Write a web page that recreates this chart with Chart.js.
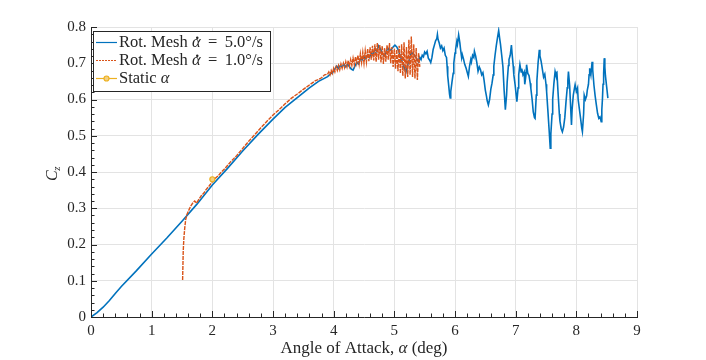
<!DOCTYPE html>
<html>
<head>
<meta charset="utf-8">
<script src="https://cdn.jsdelivr.net/npm/chart.js@4.4.0/dist/chart.umd.min.js"></script>
<style>
html, body { margin: 0; padding: 0; background: #fff; }
</style>
</head>
<body>
<canvas id="mainChart" width="706" height="360"></canvas>
<script>
// rotating mesh, 5.0 deg/s
const fastAlpha = [0, 0.1, 0.2, 0.3, 0.4, 0.5, 0.75, 1.0, 1.25, 1.5, 1.75, 2.0, 2.25, 2.5, 2.75, 3.0, 3.2, 3.4, 3.6, 3.75,
	3.9, 3.93, 3.96, 3.99, 4.02, 4.05, 4.08, 4.11, 4.14, 4.17, 4.2, 4.23, 4.26, 4.29, 4.32, 4.35, 4.38, 4.41, 4.44, 4.47,
	4.5, 4.53, 4.56, 4.59, 4.62, 4.65, 4.68, 4.71, 4.74, 4.77, 4.8, 4.83, 4.86, 4.89, 4.92, 4.95, 4.98, 5.01, 5.04, 5.07,
	5.1, 5.13, 5.16, 5.19, 5.22, 5.25, 5.28, 5.31, 5.34, 5.37,
	5.4, 5.42, 5.44, 5.46, 5.48, 5.5, 5.52, 5.54, 5.56, 5.58, 5.6, 5.62, 5.64, 5.66, 5.68, 5.7, 5.71, 5.72, 5.74, 5.76,
	5.78, 5.8, 5.82, 5.84, 5.86, 5.87, 5.88, 5.9, 5.91, 5.92, 5.93, 5.95, 5.97, 5.98, 6.0, 6.01, 6.03, 6.04, 6.06, 6.08,
	6.09, 6.11, 6.12, 6.14, 6.16, 6.18, 6.2, 6.22, 6.24, 6.26, 6.27, 6.29, 6.31, 6.32, 6.34, 6.36, 6.38, 6.4, 6.42, 6.44,
	6.46, 6.48, 6.5, 6.52, 6.53, 6.55, 6.57, 6.59, 6.61, 6.63, 6.64, 6.66, 6.68, 6.7, 6.72, 6.74, 6.75, 6.77, 6.79, 6.81,
	6.83, 6.85, 6.86, 6.88, 6.89, 6.91, 6.93, 6.94, 6.96, 6.97, 6.99, 7.01, 7.02, 7.04, 7.05, 7.07, 7.09, 7.1, 7.12, 7.14,
	7.15, 7.17, 7.18, 7.2, 7.22, 7.24, 7.25, 7.27, 7.29, 7.31, 7.32, 7.34, 7.35, 7.37, 7.39, 7.4, 7.42, 7.44, 7.46, 7.48,
	7.5, 7.51, 7.53, 7.55, 7.57, 7.58, 7.6, 7.61, 7.63, 7.65, 7.66, 7.68, 7.7, 7.72, 7.73, 7.75, 7.77, 7.79, 7.81, 7.83,
	7.85, 7.86, 7.87, 7.89, 7.9, 7.92, 7.93, 7.95, 7.97, 7.98, 8.0, 8.02, 8.03, 8.05, 8.07, 8.09, 8.1, 8.12, 8.13, 8.15,
	8.17, 8.18, 8.2, 8.21, 8.22, 8.24, 8.26, 8.27, 8.29, 8.31, 8.33, 8.35, 8.37, 8.39, 8.41, 8.42, 8.43, 8.44, 8.45, 8.46,
	8.47, 8.48, 8.5, 8.52];
const fastCz = [0, 0.012, 0.027, 0.045, 0.065, 0.084, 0.128, 0.174, 0.218, 0.264, 0.312, 0.364, 0.41, 0.458, 0.503, 0.546, 0.578, 0.605, 0.632, 0.65,
	0.663, 0.668, 0.672, 0.676, 0.684, 0.692, 0.686, 0.694, 0.69, 0.697, 0.69, 0.698, 0.69, 0.684, 0.681, 0.692, 0.702, 0.698, 0.712, 0.709,
	0.718, 0.712, 0.722, 0.716, 0.728, 0.722, 0.74, 0.732, 0.748, 0.74, 0.728, 0.72, 0.728, 0.742, 0.735, 0.738, 0.745, 0.75, 0.745, 0.735,
	0.718, 0.705, 0.69, 0.675, 0.695, 0.712, 0.73, 0.726, 0.72, 0.712,
	0.704, 0.716, 0.71, 0.722, 0.718, 0.731, 0.726, 0.733, 0.714, 0.709, 0.702, 0.716, 0.738, 0.75, 0.762, 0.768, 0.779, 0.766, 0.756, 0.742,
	0.748, 0.735, 0.742, 0.722, 0.716, 0.692, 0.665, 0.632, 0.615, 0.604, 0.622, 0.648, 0.672, 0.7, 0.728, 0.738, 0.76, 0.752, 0.778, 0.756,
	0.741, 0.715, 0.724, 0.712, 0.697, 0.688, 0.676, 0.664, 0.692, 0.71, 0.703, 0.722, 0.716, 0.733, 0.72, 0.702, 0.678, 0.69, 0.682, 0.668,
	0.674, 0.652, 0.626, 0.608, 0.597, 0.585, 0.6, 0.628, 0.645, 0.668, 0.692, 0.722, 0.748, 0.77, 0.79, 0.764, 0.752, 0.722, 0.69, 0.625,
	0.572, 0.612, 0.648, 0.694, 0.71, 0.722, 0.75, 0.728, 0.692, 0.668, 0.642, 0.61, 0.594, 0.632, 0.668, 0.696, 0.676, 0.685, 0.668, 0.676,
	0.642, 0.668, 0.696, 0.672, 0.666, 0.645, 0.631, 0.602, 0.566, 0.55, 0.548, 0.612, 0.652, 0.702, 0.737, 0.72, 0.705, 0.684, 0.662, 0.67,
	0.642, 0.622, 0.572, 0.52, 0.466, 0.505, 0.56, 0.6, 0.644, 0.677, 0.67, 0.674, 0.615, 0.56, 0.54, 0.52, 0.511, 0.524, 0.55, 0.594,
	0.632, 0.652, 0.677, 0.638, 0.602, 0.53, 0.572, 0.612, 0.632, 0.641, 0.622, 0.632, 0.6, 0.574, 0.548, 0.52, 0.511, 0.56, 0.612, 0.6,
	0.61, 0.625, 0.642, 0.668, 0.686, 0.668, 0.704, 0.682, 0.64, 0.61, 0.585, 0.562, 0.548, 0.552, 0.539, 0.572, 0.6, 0.642, 0.672, 0.714,
	0.69, 0.665, 0.635, 0.604];

// rotating mesh, 1.0 deg/s
const slowAlpha = [1.51, 1.515, 1.52, 1.53, 1.545, 1.56, 1.58, 1.6, 1.64, 1.68, 1.71, 1.74, 1.78, 1.82, 1.86, 1.9, 1.95, 2.0, 2.05,
	2.1, 2.15, 2.2, 2.25, 2.3, 2.4, 2.5, 2.6, 2.7, 2.8, 2.9, 3.0, 3.1, 3.2, 3.3, 3.4, 3.5, 3.6, 3.7, 3.75, 3.8, 3.85,
	3.9, 3.92, 3.94, 3.96, 3.98, 4.0, 4.02, 4.04, 4.06, 4.08, 4.1, 4.12, 4.14, 4.16, 4.18, 4.2, 4.22, 4.24, 4.26, 4.28,
	4.3, 4.32, 4.34, 4.36, 4.38, 4.4, 4.42, 4.44, 4.46, 4.48, 4.5, 4.52, 4.54, 4.56, 4.58, 4.6, 4.62, 4.64, 4.66, 4.68,
	4.7, 4.72, 4.74, 4.76, 4.78, 4.8, 4.82, 4.84, 4.86, 4.88, 4.9, 4.92, 4.94, 4.96, 4.98, 5.0, 5.02, 5.04, 5.06, 5.08,
	5.1, 5.12, 5.14, 5.16, 5.18, 5.2, 5.22, 5.24, 5.26, 5.28, 5.3, 5.32, 5.34, 5.36, 5.38, 5.4, 5.42];
const slowCz = [0.102, 0.14, 0.18, 0.215, 0.245, 0.268, 0.282, 0.29, 0.305, 0.315, 0.32, 0.314, 0.325, 0.335, 0.342, 0.352, 0.362, 0.373, 0.383,
	0.39, 0.4, 0.408, 0.418, 0.428, 0.445, 0.465, 0.485, 0.503, 0.522, 0.54, 0.557, 0.572, 0.588, 0.603, 0.615, 0.628, 0.64, 0.652, 0.655, 0.66, 0.668,
	0.67, 0.676, 0.668, 0.68, 0.672, 0.686, 0.676, 0.69, 0.68, 0.694, 0.682, 0.698, 0.686, 0.7, 0.688, 0.704, 0.69, 0.708, 0.692, 0.71,
	0.694, 0.714, 0.696, 0.718, 0.7, 0.722, 0.698, 0.726, 0.702, 0.73, 0.7, 0.734, 0.704, 0.74, 0.706, 0.744, 0.71, 0.748, 0.708, 0.752,
	0.704, 0.756, 0.71, 0.75, 0.702, 0.748, 0.698, 0.742, 0.704, 0.75, 0.71, 0.756, 0.7, 0.745, 0.69, 0.74, 0.685, 0.738, 0.678, 0.748,
	0.672, 0.752, 0.665, 0.758, 0.658, 0.745, 0.662, 0.765, 0.668, 0.774, 0.662, 0.752, 0.658, 0.742, 0.654, 0.728, 0.69];

// static runs
const staticAlpha = [2.0];
const staticCz = [0.38];

const seriesLabels = ["Rot. Mesh \u03B1\u0307 = 5.0\u00B0/s", "Rot. Mesh \u03B1\u0307 = 1.0\u00B0/s", "Static \u03B1"];
const seriesColors = ["#0072BD", "#D95319", "#EDB120"];
const xTicks = [0, 1, 2, 3, 4, 5, 6, 7, 8, 9];
const yTicks = [0, 0.1, 0.2, 0.3, 0.4, 0.5, 0.6, 0.7, 0.8];

const toPts = (xs, ys) => xs.map((x, i) => ({ x: x, y: ys[i] }));
const ink = "#262626";
const serif = "'Liberation Serif', 'DejaVu Serif', serif";

// draw text runs, some in italic; alpha-dot gets its accent placed by hand
function runs(ctx, parts, x, y, size) {
	let cx = x;
	parts.forEach(p => {
		ctx.font = (p[1] ? "italic " : "") + size + "px " + serif;
		if (p[0] === "\u03B1\u0307") {
			ctx.fillText("\u03B1", cx, y);
			const w = ctx.measureText("\u03B1").width;
			ctx.font = "bold " + size + "px " + serif;
			ctx.textAlign = "center";
			ctx.fillText("\u02D9", cx + w / 2 + 1, y + size * 0.05);
			ctx.textAlign = "left";
			cx += w;
		} else {
			ctx.fillText(p[0], cx, y);
			cx += ctx.measureText(p[0]).width;
		}
	});
}
function runsWidth(ctx, parts, size) {
	let w = 0;
	parts.forEach(p => {
		ctx.font = (p[1] ? "italic " : "") + size + "px " + serif;
		w += ctx.measureText(p[0]).width;
	});
	return w;
}
function labelParts(lbl) {
	const parts = [];
	lbl.split(/(\u03B1\u0307?|=)/).forEach(s => {
		if (!s) return;
		if (s === "=") parts.push(["\u2009=\u2009", false]);
		else parts.push([s, s.charAt(0) === "\u03B1"]);
	});
	return parts;
}

const decor = {
	id: "decor",
	afterDraw(chart) {
		const ctx = chart.ctx, xs = chart.scales.x, ys = chart.scales.y, a = chart.chartArea;
		ctx.save();
		ctx.strokeStyle = ink;
		ctx.lineWidth = 1;
		// inward ticks, major + minor
		ctx.beginPath();
		for (let i = 0; i <= 45; i++) {
			const px = Math.round(xs.getPixelForValue(i * 0.2)) + 0.5;
			const len = i % 5 === 0 ? 6 : 3.5;
			ctx.moveTo(px, a.bottom);
			ctx.lineTo(px, a.bottom - len);
		}
		for (let i = 0; i <= 40; i++) {
			const py = Math.round(ys.getPixelForValue(i * 0.02)) + 0.5;
			const len = i % 5 === 0 ? 6 : 3.5;
			ctx.moveTo(a.left, py);
			ctx.lineTo(a.left + len, py);
		}
		ctx.stroke();

		ctx.fillStyle = ink;
		ctx.textBaseline = "alphabetic";
		// x title
		const xt = [["Angle of Attack, ", false], ["\u03B1", true], [" (deg)", false]];
		const w = runsWidth(ctx, xt, 17);
		runs(ctx, xt, (a.left + a.right) / 2 - w / 2, 353, 17);
		// y title C_z
		ctx.save();
		ctx.translate(57, 181);
		ctx.rotate(-Math.PI / 2);
		ctx.font = "italic 16px " + serif;
		ctx.fillText("C", 0, 0);
		const cw = ctx.measureText("C").width;
		ctx.font = "italic 11px " + serif;
		ctx.fillText("z", cw - 0.5, 3);
		ctx.restore();

		// legend
		const bx = 93, by = 31, bw = 177, bh = 60;
		ctx.fillStyle = "#fff";
		ctx.fillRect(bx, by, bw, bh);
		ctx.strokeStyle = ink;
		ctx.strokeRect(bx + 0.5, by + 0.5, bw, bh);
		const rows = [42, 60, 78];
		rows.forEach((ry, i) => {
			ctx.strokeStyle = seriesColors[i];
			ctx.lineWidth = i === 1 ? 1 : 1.2;
			ctx.setLineDash(i === 1 ? [2, 1] : []);
			ctx.beginPath();
			ctx.moveTo(96, ry + 0.5);
			ctx.lineTo(117, ry + 0.5);
			ctx.stroke();
			ctx.setLineDash([]);
			if (i === 2) {
				ctx.fillStyle = "#f3cf80";
				ctx.beginPath();
				ctx.arc(106.5, ry + 0.5, 2.5, 0, Math.PI * 2);
				ctx.fill();
				ctx.stroke();
			}
			ctx.fillStyle = ink;
			runs(ctx, labelParts(seriesLabels[i]), 119, ry + 5, 16.5);
		});
		ctx.restore();
	}
};

new Chart("mainChart", {
	type: "line",
	data: {
		datasets: [
			{
				label: seriesLabels[0],
				data: toPts(fastAlpha, fastCz),
				borderColor: seriesColors[0],
				borderWidth: 1.6,
				pointRadius: 0,
				fill: false,
				order: 2
			},
			{
				label: seriesLabels[1],
				data: toPts(slowAlpha, slowCz),
				borderColor: seriesColors[1],
				borderWidth: 1.4,
				borderDash: [4, 1],
				pointRadius: 0,
				fill: false,
				order: 1
			},
			{
				label: seriesLabels[2],
				data: toPts(staticAlpha, staticCz),
				borderColor: seriesColors[2],
				backgroundColor: "#f3cf80",
				pointBackgroundColor: "#f3cf80",
				pointBorderColor: seriesColors[2],
				pointRadius: 2.5,
				borderWidth: 1.2,
				fill: false,
				order: 0
			}
		]
	},
	options: {
		responsive: false,
		animation: false,
		layout: { padding: { top: 27, right: 69, left: 0, bottom: 0 } },
		plugins: { legend: { display: false }, tooltip: { enabled: false } },
		scales: {
			x: {
				type: "linear",
				min: 0,
				max: 9,
				afterBuildTicks: s => { s.ticks = xTicks.map(v => ({ value: v })); },
				ticks: { padding: 5, color: ink, maxRotation: 0, font: { family: serif, size: 15 }, callback: v => String(v) },
				grid: { color: "#e3e3e3", drawTicks: false },
				border: { color: ink, width: 1 },
				afterFit: s => { s.height = 43; }
			},
			y: {
				type: "linear",
				min: 0,
				max: 0.8,
				afterBuildTicks: s => { s.ticks = yTicks.map(v => ({ value: v })); },
				ticks: { padding: 5, color: ink, font: { family: serif, size: 15 }, callback: v => String(+v.toFixed(1)) },
				grid: { color: "#e3e3e3", drawTicks: false },
				border: { color: ink, width: 1 },
				afterFit: s => { s.width = 91; }
			}
		}
	},
	plugins: [decor]
});
</script>
</body>
</html>
